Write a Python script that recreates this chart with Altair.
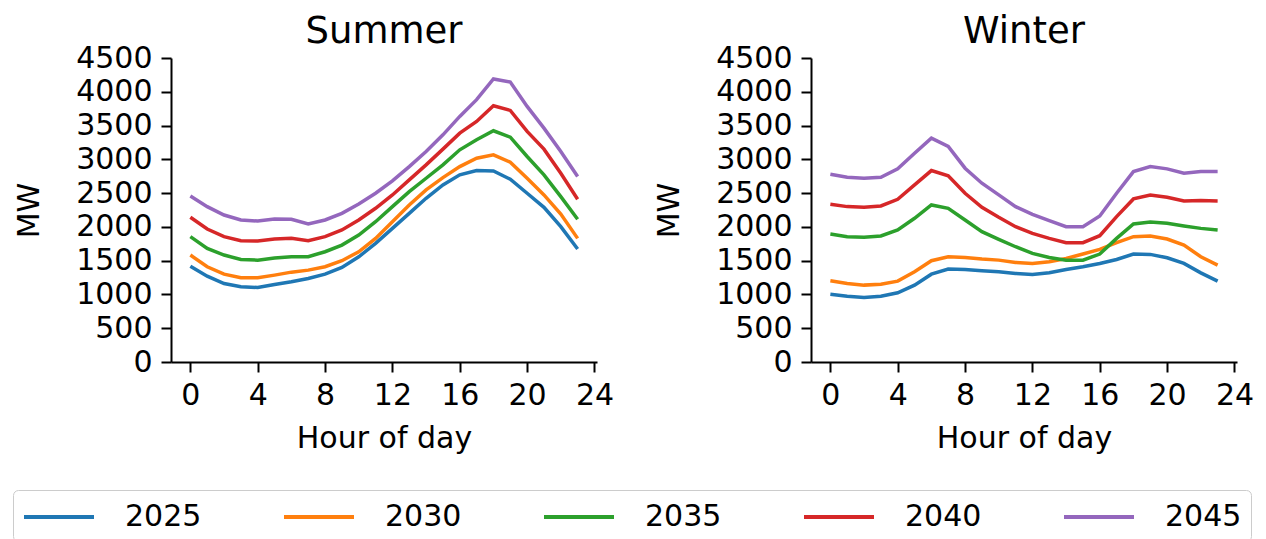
import altair as alt
import pandas as pd

hours = list(range(24))
years = ["2025", "2030", "2035", "2040", "2045"]
colors = ["#1f77b4", "#ff7f0e", "#2ca02c", "#d62728", "#9467bd"]

summer_2025 = [1419, 1271, 1162, 1113, 1103, 1147, 1187, 1236, 1300, 1400, 1558, 1756,
               1978, 2200, 2423, 2621, 2770, 2834, 2829, 2705, 2498, 2290, 2003, 1672]
summer_2030 = [1583, 1410, 1300, 1246, 1246, 1286, 1330, 1360, 1410, 1499, 1632, 1830,
               2077, 2325, 2547, 2730, 2893, 3017, 3066, 2958, 2720, 2473, 2191, 1830]
summer_2035 = [1855, 1682, 1583, 1518, 1508, 1538, 1558, 1558, 1632, 1731, 1879, 2077,
               2300, 2522, 2720, 2918, 3141, 3289, 3423, 3329, 3042, 2770, 2448, 2112]
summer_2040 = [2142, 1968, 1855, 1795, 1790, 1820, 1830, 1795, 1855, 1954, 2102, 2275,
               2473, 2696, 2918, 3151, 3388, 3561, 3794, 3724, 3413, 3151, 2794, 2409]
summer_2045 = [2458, 2300, 2176, 2102, 2087, 2117, 2112, 2043, 2102, 2201, 2339, 2498,
               2681, 2893, 3116, 3363, 3635, 3883, 4189, 4145, 3784, 3462, 3116, 2745]

winter_2025 = [1004, 974, 955, 974, 1024, 1138, 1300, 1375, 1370, 1350, 1335, 1311,
               1296, 1320, 1370, 1410, 1459, 1518, 1598, 1593, 1543, 1459, 1320, 1197]
winter_2030 = [1202, 1162, 1138, 1152, 1197, 1335, 1499, 1558, 1548, 1523, 1508, 1474,
               1459, 1484, 1533, 1598, 1667, 1766, 1855, 1865, 1820, 1731, 1558, 1434]
winter_2035 = [1894, 1855, 1845, 1865, 1954, 2127, 2325, 2275, 2102, 1929, 1815, 1706,
               1607, 1548, 1508, 1508, 1598, 1830, 2043, 2072, 2053, 2013, 1978, 1954]
winter_2040 = [2335, 2300, 2290, 2310, 2409, 2621, 2834, 2755, 2498, 2290, 2142, 2003,
               1904, 1830, 1766, 1766, 1870, 2152, 2414, 2473, 2439, 2384, 2389, 2384]
winter_2045 = [2780, 2735, 2721, 2735, 2859, 3091, 3314, 3190, 2869, 2646, 2473, 2300,
               2186, 2092, 2003, 2003, 2161, 2498, 2819, 2893, 2859, 2794, 2819, 2819]

x_ticks = [0, 4, 8, 12, 16, 20, 24]
y_ticks = [0, 500, 1000, 1500, 2000, 2500, 3000, 3500, 4000, 4500]

summer = [summer_2025, summer_2030, summer_2035, summer_2040, summer_2045]
winter = [winter_2025, winter_2030, winter_2035, winter_2040, winter_2045]

rows = []
for season, series in (("Summer", summer), ("Winter", winter)):
    for yr, vals in zip(years, series):
        for h, v in zip(hours, vals):
            rows.append({"season": season, "hour": h, "year": yr, "MW": v})
df = pd.DataFrame(rows)

FONT = "DejaVu Sans"
FS = 30


def panel(season, show_legend):
    legend = None
    if show_legend:
        legend = alt.Legend(
            orient="none", legendX=-158, legendY=432, direction="horizontal",
            columns=5, title=None, symbolType="M-1,0L3.375,0", symbolSize=1024,
            symbolStrokeWidth=4, labelFontSize=FS, labelFont=FONT, labelColor="black",
            labelOffset=67, columnPadding=74, padding=9, strokeColor="#cccccc",
            fillColor="white", cornerRadius=5,
        )
    return alt.Chart(df[df.season == season]).mark_line(strokeWidth=3.5).encode(
        x=alt.X("hour:Q", scale=alt.Scale(domain=[-1.15, 24.15], nice=False, zero=False),
                axis=alt.Axis(values=x_ticks, title="Hour of day", titleY=85,
                              titleBaseline="alphabetic", labelPadding=8)),
        y=alt.Y("MW:Q", scale=alt.Scale(domain=[0, 4500], nice=False),
                axis=alt.Axis(values=y_ticks, format="d", title="MW", titleX=-142, titleY=152,
                              titleAngle=-90, titleAlign="center", titleBaseline="middle",
                              labelPadding=9)),
        color=alt.Color("year:N", scale=alt.Scale(domain=years, range=colors), legend=legend),
    ).properties(
        width=426, height=304,
        title=alt.TitleParams(season, fontSize=37, fontWeight="normal", font=FONT,
                              color="black", offset=-8, anchor="middle"),
    )


chart = alt.hconcat(panel("Summer", True), panel("Winter", False), spacing=40).properties(
    padding={"left": 4, "top": 5, "right": 0, "bottom": 0}
).configure_view(stroke=None).configure_axis(
    grid=False, domainColor="black", domainWidth=2, tickColor="black", tickWidth=2,
    tickSize=10, labelFontSize=FS, labelFont=FONT, labelColor="black",
    titleFontSize=FS, titleFont=FONT, titleColor="black", titleFontWeight="normal",
    labelFlush=False,
)

chart.save("out.html", embed_options={"renderer": "svg", "actions": False})
